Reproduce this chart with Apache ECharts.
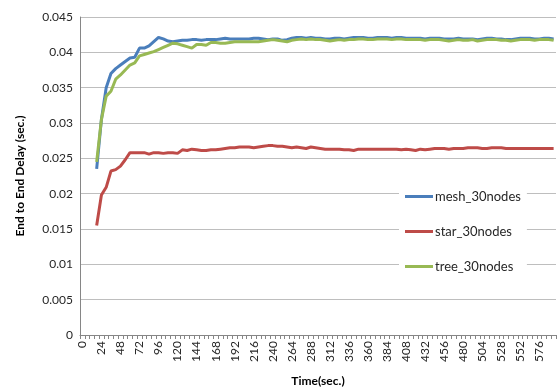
<!DOCTYPE html>
<html>
<head>
<meta charset="utf-8">
<script src="https://cdn.jsdelivr.net/npm/echarts@6/dist/echarts.min.js"></script>
<style>
  html, body { margin: 0; padding: 0; background: #fff; }
  #chart { width: 560px; height: 392px; }
</style>
</head>
<body>
<div id="chart"></div>
<script>
// Simulation time, sampled every 6 seconds (0 .. 594)
const times = [];
for (let t = 0; t <= 594; t += 6) times.push(String(t));

// Average end-to-end delay (sec.) per topology; no samples before 18 s
const mesh30 = [null, null, null,
  0.0235, 0.0305, 0.0350, 0.0370, 0.0377, 0.0382, 0.0387, 0.0392, 0.0393, 0.0406,
  0.0406, 0.0409, 0.0415, 0.0421, 0.0419, 0.0416, 0.0415, 0.0416, 0.0417, 0.0417,
  0.0418, 0.0418, 0.0417, 0.0418, 0.0418, 0.0418, 0.0419, 0.0420, 0.0419, 0.0419,
  0.0419, 0.0419, 0.0419, 0.0420, 0.0420, 0.0419, 0.0418, 0.0419, 0.0419, 0.0417,
  0.0418, 0.0420, 0.0421, 0.0421, 0.0420, 0.0421, 0.0420, 0.0420, 0.0419, 0.0419,
  0.0420, 0.0420, 0.0419, 0.0420, 0.0421, 0.0421, 0.0421, 0.0420, 0.0420, 0.0421,
  0.0421, 0.0421, 0.0420, 0.0421, 0.0421, 0.0420, 0.0420, 0.0420, 0.0420, 0.0419,
  0.0420, 0.0420, 0.0420, 0.0419, 0.0419, 0.0419, 0.0420, 0.0419, 0.0419, 0.0419,
  0.0418, 0.0419, 0.0420, 0.0420, 0.0419, 0.0419, 0.0418, 0.0418, 0.0419, 0.0420,
  0.0420, 0.0420, 0.0419, 0.0419, 0.0420, 0.0420, 0.0419];

const star30 = [null, null, null,
  0.0155, 0.0198, 0.0209, 0.0232, 0.0234, 0.0239, 0.0248, 0.0258, 0.0258, 0.0258,
  0.0258, 0.0256, 0.0258, 0.0258, 0.0257, 0.0258, 0.0258, 0.0257, 0.0262, 0.0261,
  0.0263, 0.0262, 0.0261, 0.0261, 0.0262, 0.0262, 0.0263, 0.0264, 0.0265, 0.0265,
  0.0266, 0.0266, 0.0266, 0.0265, 0.0266, 0.0267, 0.0268, 0.0268, 0.0267, 0.0267,
  0.0266, 0.0265, 0.0266, 0.0265, 0.0264, 0.0266, 0.0265, 0.0264, 0.0263, 0.0263,
  0.0263, 0.0263, 0.0262, 0.0262, 0.0261, 0.0263, 0.0263, 0.0263, 0.0263, 0.0263,
  0.0263, 0.0263, 0.0263, 0.0263, 0.0262, 0.0263, 0.0262, 0.0261, 0.0263, 0.0262,
  0.0263, 0.0264, 0.0264, 0.0264, 0.0263, 0.0264, 0.0264, 0.0264, 0.0265, 0.0265,
  0.0265, 0.0264, 0.0264, 0.0265, 0.0265, 0.0265, 0.0264, 0.0264, 0.0264, 0.0264,
  0.0264, 0.0264, 0.0264, 0.0264, 0.0264, 0.0264, 0.0264];

const tree30 = [null, null, null,
  0.0245, 0.0305, 0.0338, 0.0345, 0.0362, 0.0368, 0.0375, 0.0382, 0.0385, 0.0395,
  0.0397, 0.0399, 0.0401, 0.0404, 0.0407, 0.0410, 0.0413, 0.0412, 0.0410, 0.0408,
  0.0406, 0.0411, 0.0411, 0.0410, 0.0414, 0.0414, 0.0413, 0.0413, 0.0414, 0.0415,
  0.0415, 0.0415, 0.0415, 0.0415, 0.0415, 0.0416, 0.0417, 0.0418, 0.0417, 0.0416,
  0.0415, 0.0417, 0.0418, 0.0419, 0.0418, 0.0419, 0.0418, 0.0418, 0.0417, 0.0416,
  0.0417, 0.0418, 0.0417, 0.0418, 0.0418, 0.0419, 0.0419, 0.0418, 0.0418, 0.0419,
  0.0419, 0.0419, 0.0418, 0.0419, 0.0419, 0.0418, 0.0418, 0.0418, 0.0418, 0.0417,
  0.0418, 0.0418, 0.0418, 0.0417, 0.0416, 0.0417, 0.0418, 0.0417, 0.0417, 0.0418,
  0.0416, 0.0417, 0.0418, 0.0418, 0.0418, 0.0417, 0.0417, 0.0416, 0.0417, 0.0418,
  0.0418, 0.0418, 0.0417, 0.0418, 0.0418, 0.0418, 0.0417];

const seriesNames = ['mesh_30nodes', 'star_30nodes', 'tree_30nodes'];
const seriesColors = ['#4A7EBB', '#BE4B48', '#98B954'];

const FONT = 'Lato, "Open Sans", sans-serif';

const chart = echarts.init(document.getElementById('chart'), null, { renderer: 'canvas' });

function lineSeries(name, data, color) {
  return {
    name: name,
    type: 'line',
    data: data,
    showSymbol: false,
    symbol: 'none',
    connectNulls: false,
    lineStyle: { color: color, width: 3 },
    itemStyle: { color: color },
    emphasis: { disabled: true },
    animation: false
  };
}

chart.setOption({
  backgroundColor: '#fff',
  animation: false,
  textStyle: { fontFamily: FONT },
  grid: { left: 80, right: 4, top: 17, bottom: 55, containLabel: false },
  legend: {
    orient: 'vertical',
    left: 399,
    top: 190,
    data: seriesNames,
    icon: 'rect',
    itemWidth: 28,
    itemHeight: 3,
    itemGap: 22,
    backgroundColor: '#fff',
    padding: [0, 6, 0, 6],
    textStyle: { fontFamily: FONT, fontSize: 13, color: '#262626', padding: [0, 0, 0, -3] }
  },
  xAxis: {
    type: 'category',
    data: times,
    boundaryGap: true,
    name: 'Time(sec.)',
    nameLocation: 'middle',
    nameGap: 40,
    nameTextStyle: { fontFamily: FONT, fontSize: 12, fontWeight: 'bold', color: '#000' },
    axisLine: { lineStyle: { color: '#868686', width: 1 } },
    axisTick: { show: true, interval: 0, length: 4, lineStyle: { color: '#868686' } },
    axisLabel: {
      interval: 3,
      rotate: 90,
      margin: 6,
      fontFamily: FONT,
      fontSize: 12,
      color: '#262626'
    },
    splitLine: { show: false }
  },
  yAxis: {
    type: 'value',
    min: 0,
    max: 0.045,
    interval: 0.005,
    name: 'End to End Delay (sec.)',
    nameLocation: 'middle',
    nameGap: 54,
    nameTextStyle: { fontFamily: FONT, fontSize: 12, fontWeight: 'bold', color: '#000' },
    axisLine: { show: true, lineStyle: { color: '#868686', width: 1 } },
    axisTick: { show: false },
    axisLabel: {
      margin: 7,
      fontFamily: FONT,
      fontSize: 12,
      color: '#262626',
      formatter: function (v) { return String(parseFloat(v.toFixed(3))); }
    },
    splitLine: { show: true, lineStyle: { color: '#BEBEBE', width: 1 } }
  },
  series: [
    lineSeries(seriesNames[0], mesh30, seriesColors[0]),
    lineSeries(seriesNames[1], star30, seriesColors[1]),
    lineSeries(seriesNames[2], tree30, seriesColors[2])
  ]
});
</script>
</body>
</html>
